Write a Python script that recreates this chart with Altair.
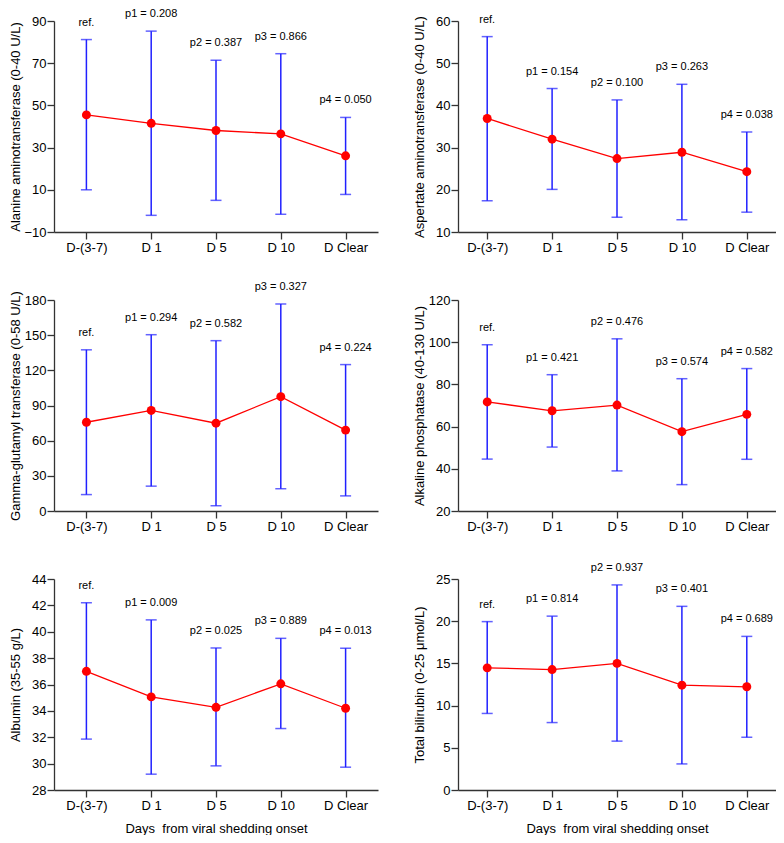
import altair as alt
import pandas as pd

categories = ["D-(3-7)", "D 1", "D 5", "D 10", "D Clear"]

alt_mean = [45.5, 41.5, 38.1, 36.5, 26.1]
alt_upper = [81.2, 85.2, 71.4, 74.5, 44.3]
alt_lower = [10.0, -2.1, 5.0, -1.6, 7.8]
alt_p = ["ref.", "p1 = 0.208", "p2 = 0.387", "p3 = 0.866", "p4 = 0.050"]

ast_mean = [36.9, 32.0, 27.4, 28.9, 24.3]
ast_upper = [56.3, 44.0, 41.3, 45.0, 33.7]
ast_lower = [17.4, 20.1, 13.5, 12.9, 14.7]
ast_p = ["ref.", "p1 = 0.154", "p2 = 0.100", "p3 = 0.263", "p4 = 0.038"]

ggt_mean = [75.7, 85.8, 74.9, 97.5, 69.0]
ggt_upper = [137.5, 150.4, 145.3, 176.6, 124.9]
ggt_lower = [14.0, 21.2, 4.5, 19.0, 12.9]
ggt_p = ["ref.", "p1 = 0.294", "p2 = 0.582", "p3 = 0.327", "p4 = 0.224"]

alp_mean = [71.7, 67.5, 70.2, 57.6, 65.8]
alp_upper = [98.8, 84.6, 101.6, 82.7, 87.5]
alp_lower = [44.6, 50.3, 39.0, 32.5, 44.5]
alp_p = ["ref.", "p1 = 0.421", "p2 = 0.476", "p3 = 0.574", "p4 = 0.582"]

alb_mean = [37.0, 35.06, 34.27, 36.05, 34.2]
alb_upper = [42.2, 40.9, 38.77, 39.5, 38.75]
alb_lower = [31.86, 29.2, 29.83, 32.66, 29.73]
alb_p = ["ref.", "p1 = 0.009", "p2 = 0.025", "p3 = 0.889", "p4 = 0.013"]

tbil_mean = [14.47, 14.27, 15.0, 12.42, 12.23]
tbil_upper = [19.95, 20.6, 24.3, 21.76, 18.2]
tbil_lower = [9.07, 7.99, 5.79, 3.09, 6.25]
tbil_p = ["ref.", "p1 = 0.814", "p2 = 0.937", "p3 = 0.401", "p4 = 0.689"]

y_titles = [
    "Alanine aminotransferase (0-40 U/L)",
    "Aspertate aminotransferase (0-40 U/L)",
    "Gamma-glutamyl transferase (0-58 U/L)",
    "Alkaline phosphatase (40-130 U/L)",
    "Albumin (35-55 g/L)",
    "Total bilirubin (0-25 \u03bcmol/L)",
]
y_ticks = [
    [-10, 10, 30, 50, 70, 90],
    [10, 20, 30, 40, 50, 60],
    [0, 30, 60, 90, 120, 150, 180],
    [20, 40, 60, 80, 100, 120],
    [28, 30, 32, 34, 36, 38, 40, 42, 44],
    [0, 5, 10, 15, 20, 25],
]
x_title = "Days\u00a0 from viral shedding onset"

FONT = "Liberation Sans"
H = 211
W_LEFT = 324
W_RIGHT = 318
AXC = "#333333"
RED = "#ff0000"
BLUE = "#2020ff"


def panel(mean, lower, upper, plabels, ytitle, ticks, col, bottom):
    df = pd.DataFrame({"cat": categories, "mean": mean, "lower": lower,
                       "upper": upper, "label": plabels})
    width = W_LEFT if col == 0 else W_RIGHT
    pad = 0.5 if col == 0 else 0.45
    xenc = alt.X(
        "cat:N", sort=categories,
        scale=alt.Scale(type="point", padding=pad),
        title=x_title if bottom else None,
        axis=alt.Axis(
            labelAngle=0, labelFont=FONT, labelFontSize=13, labelColor="black",
            labelPadding=2, tickSize=7, tickColor=AXC, tickWidth=1.3,
            domainColor=AXC, domainWidth=1.3, grid=False, labelOverlap=False,
            titleFont=FONT, titleFontSize=13, titleFontWeight="normal",
            titleColor="black", titleY=38, titleBaseline="middle",
        ),
    )
    yscale = alt.Scale(domain=[ticks[0], ticks[-1]], nice=False, zero=False)
    yaxis = alt.Axis(
        values=ticks, tickCount=len(ticks) + 2,
        labelFont=FONT, labelFontSize=13, labelColor="black",
        labelPadding=1, tickSize=7, tickColor=AXC, tickWidth=1.3,
        domainColor=AXC, domainWidth=1.3, grid=False,
        labelOverlap=False, labelFlush=False,
        titleFont=FONT, titleFontSize=13, titleFontWeight="normal",
        titleColor="black", titleX=-39, titleY=H / 2, titleAngle=270,
        titleAlign="center", titleBaseline="middle",
    )
    base = alt.Chart(df).encode(x=xenc)
    rule = base.mark_rule(color=BLUE, strokeWidth=1.5).encode(
        y=alt.Y("lower:Q", scale=yscale, axis=yaxis, title=ytitle),
        y2="upper:Q",
    )
    cap_hi = base.mark_tick(color=BLUE, size=11, thickness=1.5).encode(
        y=alt.Y("upper:Q", scale=yscale))
    cap_lo = base.mark_tick(color=BLUE, size=11, thickness=1.5).encode(
        y=alt.Y("lower:Q", scale=yscale))
    line = base.mark_line(color=RED, strokeWidth=1.3).encode(
        y=alt.Y("mean:Q", scale=yscale))
    pts = base.mark_circle(color=RED, size=80, opacity=1).encode(
        y=alt.Y("mean:Q", scale=yscale))
    txt = base.mark_text(font=FONT, fontSize=11, color="black", dy=-17,
                         align="center", baseline="middle").encode(
        y=alt.Y("upper:Q", scale=yscale), text="label:N")
    return alt.layer(rule, cap_hi, cap_lo, line, pts, txt).properties(
        width=width, height=H)


panels = [
    panel(alt_mean, alt_lower, alt_upper, alt_p, y_titles[0], y_ticks[0], 0, False),
    panel(ast_mean, ast_lower, ast_upper, ast_p, y_titles[1], y_ticks[1], 1, False),
    panel(ggt_mean, ggt_lower, ggt_upper, ggt_p, y_titles[2], y_ticks[2], 0, False),
    panel(alp_mean, alp_lower, alp_upper, alp_p, y_titles[3], y_ticks[3], 1, False),
    panel(alb_mean, alb_lower, alb_upper, alb_p, y_titles[4], y_ticks[4], 0, True),
    panel(tbil_mean, tbil_lower, tbil_upper, tbil_p, y_titles[5], y_ticks[5], 1, True),
]

chart = alt.concat(
    *panels, columns=2, spacing={"row": 68, "column": 80}, bounds="flush"
).properties(padding=0).configure_view(stroke=None).resolve_scale(
    x="independent", y="independent")

chart.save("out.html", embed_options={"renderer": "svg", "actions": False})
